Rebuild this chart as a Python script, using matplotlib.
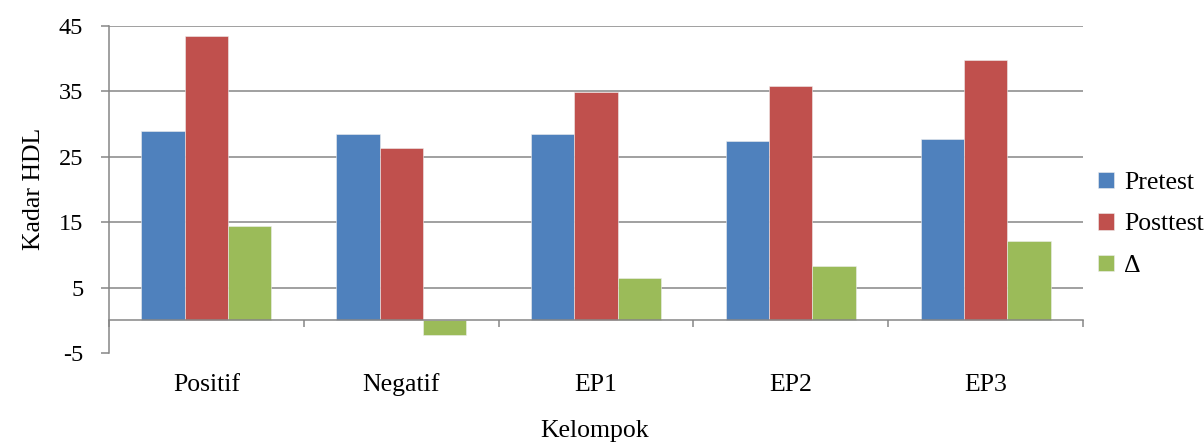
import matplotlib
matplotlib.use("Agg")
import matplotlib.pyplot as plt
import numpy as np

categories = ["Positif", "Negatif", "EP1", "EP2", "EP3"]
pretest = [28.85, 28.4, 28.4, 27.4, 27.7]
posttest = [43.35, 26.25, 34.85, 35.8, 39.8]
delta = [14.4, -2.25, 6.4, 8.35, 12.1]
series_names = ["Pretest", "Posttest", "\u0394"]
colors = ["#4F81BD", "#C0504D", "#9BBB59"]
yticks = [-5, 5, 15, 25, 35, 45]

plt.rcParams['font.family'] = ['Liberation Serif', 'DejaVu Serif']
plt.rcParams['axes.unicode_minus'] = False

fig = plt.figure(figsize=(12.04, 4.43), dpi=100)
ax = fig.add_axes([0.0905, 0.2032, 0.8090, 0.7388])

x = np.arange(len(categories))
w = 1 / 4.5
grey = "#868686"
ax.set_axisbelow(True)
for i, (vals, name, c) in enumerate(zip([pretest, posttest, delta], series_names, colors)):
    ax.bar(x + (i - 1) * w, vals, width=w, color=c, edgecolor="#eeeeee",
           linewidth=0.4, label=name, zorder=2)

ax.set_xlim(-0.5, len(categories) - 0.5)
ax.set_ylim(-5, 45)
ax.set_yticks(yticks)
ax.tick_params(axis='y', labelsize=17.5, length=5.5, width=1.1, color=grey, direction='out', pad=13)
ax.grid(axis='y', color=grey, linewidth=1.1, zorder=0)
ax.yaxis.get_gridlines()[0].set_visible(False)

for s in ['top', 'right']:
    ax.spines[s].set_visible(False)
ax.spines['left'].set_color(grey)
ax.spines['left'].set_linewidth(1.1)
ax.spines['bottom'].set_position(('data', 0))
ax.spines['bottom'].set_color(grey)
ax.spines['bottom'].set_linewidth(1.1)
ax.spines['bottom'].set_zorder(3)

ax.set_xticks(x)
ax.set_xticklabels(categories, va='baseline')
ax.set_xticks(np.arange(len(categories) + 1) - 0.5, minor=True)
ax.tick_params(axis='x', which='major', length=0, labelsize=18.5, pad=51)
ax.tick_params(axis='x', which='minor', length=5, width=1.1, color=grey, direction='out')

ax.set_ylabel("Kadar HDL", fontsize=18.5, labelpad=10)
fig.text(0.4935, 0.028, "Kelompok", ha='center', va='center', fontsize=18.5)

leg = ax.legend(loc='center left', bbox_to_anchor=(1.005, 0.393), frameon=False,
                fontsize=18.5, handlelength=0.6, handleheight=0.6, handletextpad=0.4,
                labelspacing=0.75, borderaxespad=0)

fig.savefig("out.png", dpi=100)
